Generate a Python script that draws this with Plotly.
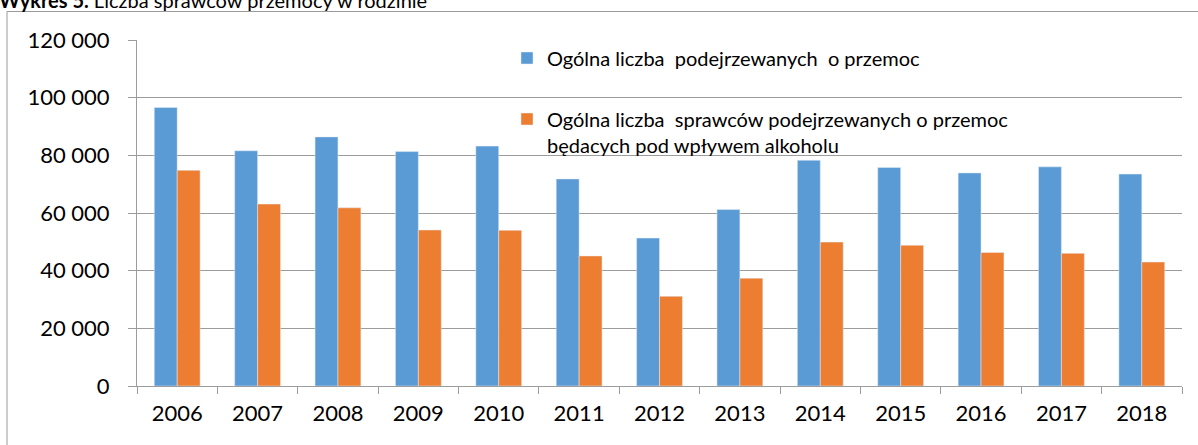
import plotly.graph_objects as go

years = ["2006", "2007", "2008", "2009", "2010", "2011", "2012",
         "2013", "2014", "2015", "2016", "2017", "2018"]
suspects_total = [96600, 81600, 86400, 81300, 83200, 71800, 51300,
                  61200, 78300, 75800, 73900, 76000, 73500]
suspects_alcohol = [74800, 63100, 61800, 54100, 54000, 45100, 31100,
                    37400, 49900, 48800, 46300, 46000, 43000]

name_total = "Ogólna liczba\u00a0 podejrzewanych\u00a0 o przemoc"
name_alcohol = ("Ogólna liczba\u00a0 sprawców podejrzewanych o przemoc<br>"
                "będacych pod wpływem alkoholu")

FONT = "Lato"
GRID = "#9C9C9C"

W, H = 1198, 445
L, R, T, B = 137, 16, 40, 59
PW, PH = W - L - R, H - T - B


def px_x(x):
    return (x - L) / PW


def px_y(y):
    return (H - B - y) / PH


fig = go.Figure()
fig.add_trace(go.Bar(x=years, y=suspects_total, name=name_total,
                     marker=dict(color="#5B9BD5"), legend="legend"))
fig.add_trace(go.Bar(x=years, y=suspects_alcohol, name=name_alcohol,
                     marker=dict(color="#ED7D31"), legend="legend2"))

fig.update_layout(
    width=W, height=H,
    margin=dict(l=L, r=R, t=T, b=B),
    paper_bgcolor="white", plot_bgcolor="white",
    separators=", ",
    barmode="group", bargap=0.43, bargroupgap=0,
    font=dict(family=FONT, size=22, color="#000000"),
    xaxis=dict(
        type="category", showline=True, linecolor=GRID, linewidth=1,
        ticks="outside", tickson="boundaries", ticklen=7, tickcolor=GRID,
        tickfont=dict(family=FONT, size=22, color="#000000"),
        ticklabelstandoff=8, showgrid=False, fixedrange=True,
    ),
    yaxis=dict(
        range=[0, 120000], dtick=20000, tickformat=",d",
        showline=True, linecolor=GRID, linewidth=1,
        ticks="outside", ticklen=8, tickcolor=GRID,
        showgrid=True, gridcolor=GRID, gridwidth=1,
        zeroline=False,
        tickfont=dict(family=FONT, size=22, color="#000000"),
        ticklabelstandoff=14, fixedrange=True,
    ),
    legend=dict(
        x=px_x(507), y=px_y(58), xanchor="left", yanchor="middle",
        font=dict(family=FONT, size=20, color="#000000"),
        bgcolor="rgba(0,0,0,0)",
    ),
    legend2=dict(
        x=px_x(507), y=px_y(132), xanchor="left", yanchor="middle",
        valign="top",
        font=dict(family=FONT, size=20, color="#000000"),
        bgcolor="rgba(0,0,0,0)",
    ),
    showlegend=True,
)

# outer chart frame (partially visible, as in the reference)
fig.add_shape(type="rect", xref="paper", yref="paper",
              x0=px_x(7), x1=px_x(1230), y0=px_y(480), y1=px_y(11.5),
              line=dict(color="#9A9A9A", width=1), layer="below")

# figure caption, cut off at the top edge as in the reference
fig.add_annotation(
    xref="paper", yref="paper", x=px_x(-3), y=px_y(14),
    xanchor="left", yanchor="bottom", showarrow=False,
    text="<b>Wykres 5.</b> Liczba sprawców przemocy w rodzinie",
    font=dict(family=FONT, size=20, color="#000000"),
)

fig.write_html("out.html",
               config={"displayModeBar": False},
               post_script="document.body.style.margin='0';")
